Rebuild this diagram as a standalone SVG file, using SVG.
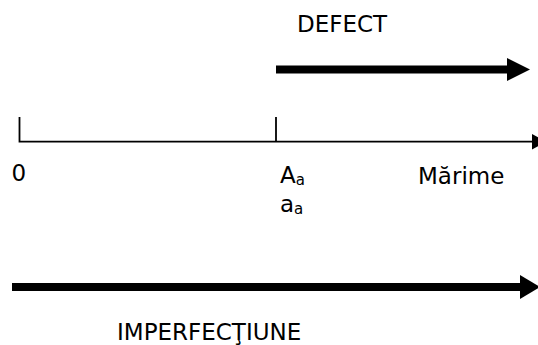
<svg xmlns="http://www.w3.org/2000/svg" width="538" height="345" viewBox="0 0 538 345">
  <style>
    .lbl { font-family: "DejaVu Sans", Verdana, sans-serif; font-size: 23px; fill: #000; }
    .sub { font-size: 15px; }
    .thick { stroke: #000; stroke-width: 8; fill: none; }
    .axis { stroke: #000; stroke-width: 1.8; fill: none; }
    .head { fill: #000; stroke: none; }
  </style>

  <!-- labels -->
  <g id="defect-label"><text class="lbl" x="297" y="31.5">DEFECT</text></g>
  <g id="origin-label"><text class="lbl" x="11.5" y="181">0</text></g>
  <g id="Aa-label"><text class="lbl" x="280" y="182.5">A<tspan class="sub" dy="2.5">a</tspan></text></g>
  <g id="aa-label"><text class="lbl" x="280" y="211.5">a<tspan class="sub" dy="2.5">a</tspan></text></g>
  <g id="marime-label"><text class="lbl" x="418" y="183.5">Mărime</text></g>
  <g id="imperfectiune-label"><text class="lbl" x="117" y="339.5">IMPERFECŢIUNE</text></g>

  <!-- connectors -->
  <g id="connectors">
    <!-- defect range arrow -->
    <line class="thick" x1="276" y1="69.5" x2="510" y2="69.5"/>
    <polygon class="head" points="507,58 530,69.5 507,81"/>

    <!-- size axis with ticks -->
    <polyline class="axis" points="19.5,117 19.5,141.7 533,141.7"/>
    <line class="axis" x1="276" y1="117" x2="276" y2="141.7"/>
    <polygon class="head" points="532,134 546,141.7 532,149.5"/>

    <!-- imperfection range arrow -->
    <line class="thick" x1="12" y1="287" x2="524" y2="287"/>
    <polygon class="head" points="520,275 540,287 520,299"/>
  </g>
</svg>
